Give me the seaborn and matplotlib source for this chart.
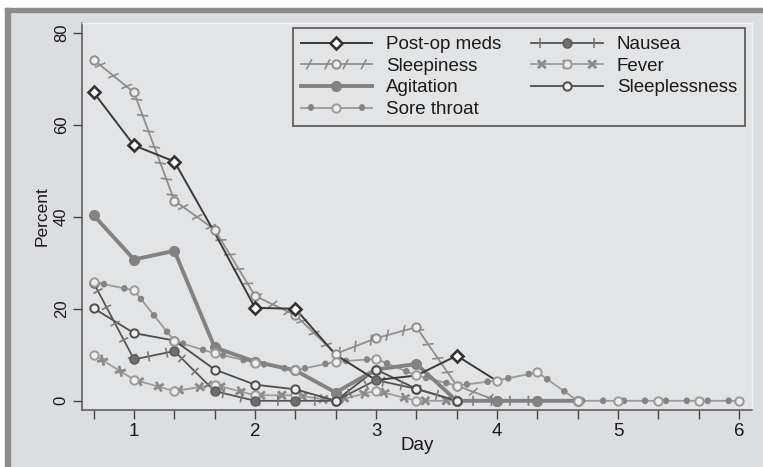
import matplotlib
matplotlib.use("Agg")
import matplotlib.pyplot as plt
import matplotlib.patheffects as pe
from matplotlib.lines import Line2D
from matplotlib.legend_handler import HandlerTuple
from matplotlib.patches import Rectangle
import seaborn as sns

# Time points (days after surgery, every 8 hours)
days = [2/3, 1, 4/3, 5/3, 2, 7/3, 8/3, 3, 10/3, 11/3, 4, 13/3, 14/3, 5, 16/3, 17/3, 6]

# Percent of patients with each symptom
post_op = [67.0, 55.5, 52.0, 36.5, 20.2, 20.0, 10.0, 4.5, 5.5, 9.8, 4.3]
sleepiness = [74.1, 67.0, 43.5, 37.2, 22.8, 18.6, 10.2, 13.6, 16.0, 3.3, 0.0]
agitation = [40.3, 30.7, 32.6, 11.6, 8.5, 6.6, 1.8, 6.8, 8.0, 0.0, 0.0, 0.0, 0.0]
sore_throat = [25.8, 24.0, 13.0, 10.3, 8.3, 6.6, 8.5, 9.1, 5.5, 3.3, 4.4, 6.2,
               0.0, 0.0, 0.0, 0.0, 0.0]
nausea = [25.6, 9.0, 10.8, 2.1, 0.0, 0.0, 0.0, 4.5, 2.6, 0.0, 0.0, 0.0]
fever = [10.0, 4.6, 2.1, 3.5, 1.2, 1.2, 0.0, 2.2, 0.0, 0.0]
sleeplessness = [20.1, 14.7, 13.1, 6.8, 3.5, 2.5, 0.0, 6.8, 2.6, 0.0]

names = ["Post-op meds", "Sleepiness", "Agitation", "Sore throat",
         "Nausea", "Fever", "Sleeplessness"]
values = [post_op, sleepiness, agitation, sore_throat, nausea, fever, sleeplessness]

plt.rcParams["font.family"] = ["Liberation Sans", "DejaVu Sans"]
plt.rcParams["font.size"] = 13.5

bg = "#dcdde0"
panel = "#e3e4e6"
hole = "#eeeeef"


def ticked(spacing, angles, length, color, lw=1.0, cap="butt"):
    return [pe.TickedStroke(spacing=spacing, angle=a, length=length,
                            foreground=color, linewidth=lw, capstyle=cap)
            for a in angles]


# line style, decoration, marker style for each series
styles = {
    "Post-op meds": (dict(color="#3a3a3a", linewidth=1.4), [],
                     dict(marker="D", markersize=6.5, markerfacecolor="white",
                          markeredgecolor="#333333", markeredgewidth=1.9,
                          markevery=[0, 1, 2, 4, 5, 9])),
    "Sleepiness": (dict(color="#8e8e8e", linewidth=1.3),
                   ticked(12, [62, -118], 0.34, "#8a8a8a", 1.2),
                   dict(marker="o", markersize=6, markerfacecolor=hole,
                        markeredgecolor="#8e8e8e", markeredgewidth=1.4)),
    "Agitation": (dict(color="#828282", linewidth=2.8), [],
                  dict(marker="o", markersize=7, markerfacecolor="#828282",
                       markeredgecolor="#828282", markeredgewidth=1)),
    "Sore throat": (dict(color="#9a9a9a", linewidth=1.3),
                    ticked(15, [90, -90], 0.02, "#858585", 4.3, "round"),
                    dict(marker="o", markersize=6, markerfacecolor=hole,
                         markeredgecolor="#9a9a9a", markeredgewidth=1.4)),
    "Nausea": (dict(color="#555555", linewidth=1.3),
               ticked(13, [90, -90], 0.28, "#7a7a7a", 1.2),
               dict(marker="o", markersize=6.5, markerfacecolor="#6e6e6e",
                    markeredgecolor="#5a5a5a", markeredgewidth=1)),
    "Fever": (dict(color="#9c9c9c", linewidth=1.3),
              ticked(15, [45, -135, 135, -45], 0.27, "#8a8a8a", 2.0),
              dict(marker="o", markersize=6, markerfacecolor=hole,
                   markeredgecolor="#9c9c9c", markeredgewidth=1.4)),
    "Sleeplessness": (dict(color="#4d4d4d", linewidth=1.3), [],
                      dict(marker="o", markersize=6, markerfacecolor=hole,
                           markeredgecolor="#4d4d4d", markeredgewidth=1.4)),
}

fig = plt.figure(figsize=(7.63, 4.67), dpi=100, facecolor=bg)

# scanned page frame
fig.patches.append(Rectangle((0, 459 / 467), 1, 8 / 467, transform=fig.transFigure,
                             color="white", zorder=0))
fig.patches.append(Rectangle((0, 0), 5 / 763, 1, transform=fig.transFigure,
                             color="white", zorder=0))
fig.patches.append(Rectangle((5 / 763, 455 / 467), 1, 4 / 467, transform=fig.transFigure,
                             color="#8c8c8c", zorder=0))
fig.patches.append(Rectangle((5 / 763, 0), 5 / 763, 459 / 467, transform=fig.transFigure,
                             color="#8c8c8c", zorder=0))

ax = fig.add_axes([82 / 763, 57 / 467, 670 / 763, 387 / 467])
ax.set_facecolor(panel)

line_order = ["Sleepiness", "Fever", "Sore throat", "Sleeplessness", "Nausea",
              "Agitation", "Post-op meds"]
marker_order = ["Sleepiness", "Fever", "Nausea", "Agitation", "Sleeplessness",
                "Sore throat", "Post-op meds"]
data = dict(zip(names, values))

for name in line_order:
    vals = data[name]
    lkw, deco, mkw = styles[name]
    sns.lineplot(x=days[:len(vals)], y=vals, ax=ax, sort=False, zorder=2,
                 path_effects=[pe.Normal()] + deco, **lkw)

for name in marker_order:
    vals = data[name]
    lkw, deco, mkw = styles[name]
    sns.lineplot(x=days[:len(vals)], y=vals, ax=ax, sort=False, zorder=3,
                 linestyle="none", color=lkw["color"], **mkw)

ax.set_xlim(0.570, 6.107)
ax.set_ylim(-2.0, 82.1)
ax.set_xticks([1, 2, 3, 4, 5, 6])
ax.set_xticks(days, minor=True)
ax.set_yticks([0, 20, 40, 60, 80])
ax.tick_params(axis="both", which="both", length=6.5, width=1, color="#444444",
               labelcolor="#1a1a1a", pad=3)
ax.tick_params(axis="x", labelsize=13.5)
ax.tick_params(axis="y", labelsize=12)
plt.setp(ax.get_yticklabels(), rotation=90, va="center")

for side in ["left", "bottom"]:
    ax.spines[side].set_color("#555555")
    ax.spines[side].set_linewidth(1.1)
for side in ["top", "right"]:
    ax.spines[side].set_color("#f4f4f4")
    ax.spines[side].set_linewidth(1.0)

ax.set_xlabel("Day", fontsize=13.5, color="#1a1a1a", labelpad=-2)
ax.set_ylabel("Percent", fontsize=12.5, color="#1a1a1a", labelpad=3)

# legend keys: decorated line overlaid with its marker
handles = []
for name in names:
    lkw, deco, mkw = styles[name]
    line = Line2D([], [], path_effects=[pe.Normal()] + deco, **lkw)
    mk = {k: v for k, v in mkw.items() if k != "markevery"}
    dot = Line2D([], [], linestyle="none", color=lkw["color"], **mk)
    handles.append((line, dot))

leg = ax.legend(handles, names, handler_map={tuple: HandlerTuple(ndivide=1, pad=0)},
                loc="upper right", bbox_to_anchor=(0.9896, 0.987), borderaxespad=0,
                ncol=2, numpoints=1, fontsize=13.5, handlelength=3.8, handletextpad=0.75,
                columnspacing=1.6, labelspacing=0.24, borderpad=0.43,
                fancybox=False, framealpha=1, facecolor=panel, edgecolor="#555555")
leg.get_frame().set_linewidth(1.2)
for t in leg.get_texts():
    t.set_color("#1a1a1a")

fig.savefig("out.png", dpi=100, facecolor=bg)
